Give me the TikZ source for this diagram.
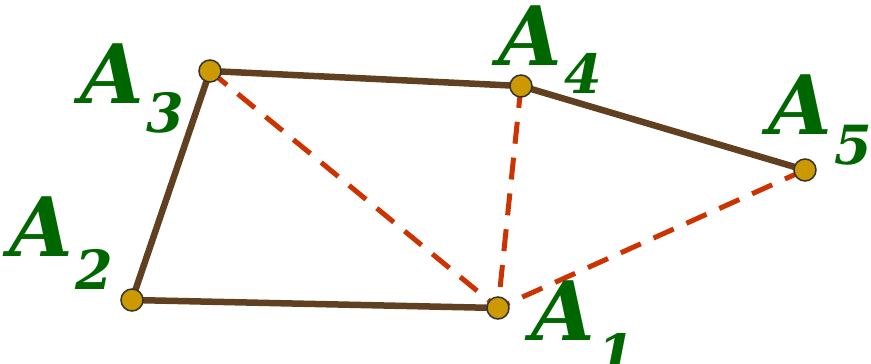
\documentclass[tikz,border=0pt]{standalone}
\usepackage{fontspec}
\setmainfont{DejaVu Serif}
\definecolor{edgebrown}{HTML}{604020}
\definecolor{dashred}{HTML}{CC3300}
\definecolor{ptfill}{HTML}{CC9900}
\definecolor{labgreen}{HTML}{006600}
\tikzset{
  solidedge/.style={edgebrown, line width=6.5pt},
  dashedge/.style={dashred, line width=5pt, dash pattern=on 22pt off 14pt},
  pt/.style={circle, fill=ptfill, draw=black!80, line width=1.5pt, minimum size=22pt, inner sep=0pt},
  letter/.style={anchor=base west, inner sep=0pt, text=labgreen, font=\fontsize{82}{82}\selectfont\bfseries\itshape},
  sub/.style={anchor=base west, inner sep=0pt, text=labgreen, font=\fontsize{54}{54}\selectfont\bfseries\itshape},
}
\begin{document}
\begin{tikzpicture}[x=1pt,y=1pt]
\useasboundingbox (0,0) rectangle (871,364);
% points (y flipped: 364 - ypx)
\coordinate (p1) at (498,56);
\coordinate (p2) at (132,64);
\coordinate (p3) at (210,293);
\coordinate (p4) at (521,278);
\coordinate (p5) at (805,194);
% dashed diagonals
\draw[dashedge] (p3) -- (p1);
\draw[dashedge] (p4) -- (p1);
\draw[dashedge] (p5) -- (p1);
% solid edges
\draw[solidedge] (p1) -- (p2) -- (p3) -- (p4) -- (p5);
% dots
\node[pt] (A1) at (p1) {};
\node[pt] (A2) at (p2) {};
\node[pt] (A3) at (p3) {};
\node[pt] (A4) at (p4) {};
\node[pt] (A5) at (p5) {};
% labels
\node[letter] (L1) at (531,23) {A};
\node[sub] (S1) at ([xshift=2pt,yshift=-33pt]L1.base east) {1};
\node[letter] (L2) at (9,107) {A};
\node[sub] (S2) at ([xshift=2pt,yshift=-33pt]L2.base east) {2};
\node[letter] (L3) at (80,260) {A};
\node[sub] (S3) at ([xshift=2pt,yshift=-29pt]L3.base east) {3};
\node[letter] (L4) at (498,298) {A};
\node[sub] (S4) at ([xshift=2pt,yshift=-28pt]L4.base east) {4};
\node[letter] (L5) at (768,229) {A};
\node[sub] (S5) at ([xshift=2pt,yshift=-30pt]L5.base east) {5};
\end{tikzpicture}
\end{document}
